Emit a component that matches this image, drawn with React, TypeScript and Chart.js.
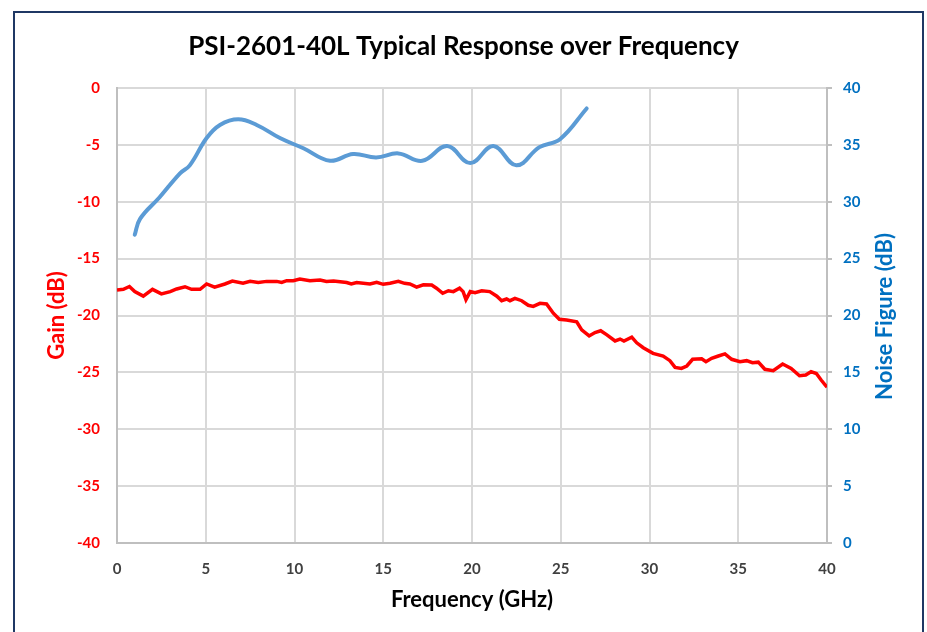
import React, { useEffect, useRef } from "react";
import { Chart, registerables } from "chart.js";

Chart.register(...registerables);

const chartTitle = "PSI-2601-40L Typical Response over Frequency";
const xTitle = "Frequency (GHz)";
const leftTitle = "Gain (dB)";
const rightTitle = "Noise Figure (dB)";

const gainFreq = [
  0.0, 0.36, 0.7, 1.0, 1.48, 2.0, 2.5, 3.0, 3.36, 3.83, 4.2, 4.68, 5.05, 5.5, 6.08, 6.5,
  7.1, 7.5, 7.96, 8.43, 9.0, 9.28, 9.56, 9.93, 10.3, 10.87, 11.44, 11.8, 12.2, 12.94, 13.2,
  13.5, 14.25, 14.63, 15.0, 15.38, 15.85, 16.2, 16.5, 16.88, 17.26, 17.73, 18.0, 18.35,
  18.67, 18.95, 19.3, 19.5, 19.66, 19.9, 20.17, 20.55, 21.0, 21.4, 21.67, 21.95, 22.14,
  22.42, 22.8, 23.17, 23.45, 23.83, 24.2, 24.58, 24.92, 25.33, 25.9, 26.18, 26.6, 26.93,
  27.25, 27.6, 28.06, 28.34, 28.56, 29.0, 29.28, 29.65, 30.2, 30.77, 31.15, 31.44, 31.8,
  32.1, 32.43, 32.94, 33.18, 33.5, 33.88, 34.25, 34.63, 35.1, 35.47, 35.8, 36.13, 36.5,
  36.97, 37.5, 37.98, 38.45, 38.8, 39.1, 39.4, 39.67, 40.0,
];
const gainValues = [
  -17.76, -17.7, -17.45, -17.9, -18.3, -17.7, -18.1, -17.9, -17.67, -17.47, -17.7, -17.7,
  -17.23, -17.5, -17.23, -16.97, -17.17, -17.0, -17.1, -17.0, -17.0, -17.1, -16.94, -16.94,
  -16.8, -16.94, -16.88, -17.0, -16.97, -17.1, -17.23, -17.1, -17.23, -17.08, -17.26,
  -17.17, -17.0, -17.17, -17.23, -17.5, -17.3, -17.32, -17.6, -18.05, -17.82, -17.9, -17.6,
  -17.9, -18.6, -17.9, -18.0, -17.82, -17.9, -18.3, -18.7, -18.55, -18.7, -18.5, -18.7,
  -19.1, -19.2, -18.93, -18.99, -19.8, -20.33, -20.4, -20.55, -21.27, -21.8, -21.5, -21.34,
  -21.7, -22.24, -22.07, -22.24, -21.9, -22.4, -22.83, -23.33, -23.56, -23.97, -24.56,
  -24.65, -24.44, -23.85, -23.8, -24.06, -23.76, -23.56, -23.38, -23.85, -24.06, -23.97,
  -24.15, -24.1, -24.73, -24.85, -24.26, -24.65, -25.3, -25.23, -24.94, -25.1, -25.67, -26.3,
];

const nfFreq = [
  1.0, 1.3, 2.4, 3.55, 4.1, 5.05, 5.8, 6.83, 7.87, 9.18, 10.5, 12.0, 13.3, 14.6, 15.85,
  17.2, 18.6, 19.9, 21.2, 22.5, 23.8, 24.96, 26.46,
];
const nfValues = [
  27.1, 28.5, 30.4, 32.5, 33.2, 35.6, 36.75, 37.25, 36.75, 35.6, 34.7, 33.6, 34.2, 33.9,
  34.25, 33.6, 34.9, 33.4, 34.9, 33.2, 34.8, 35.5, 38.2,
];

const xRange = [0, 40];
const gainRange = [-40, 0];
const nfRange = [0, 40];
const tickStep = 5;

const FONT = "Lato, 'Open Sans', 'DejaVu Sans', sans-serif";

export default function App() {
  const ref = useRef<HTMLCanvasElement>(null);

  useEffect(() => {
    if (!ref.current) return;
    const rightTitlePlugin = {
      id: "rightTitle",
      afterDraw(chart: any) {
        const ctx = chart.ctx;
        const s = chart.scales.y1;
        const ca = chart.chartArea;
        ctx.save();
        ctx.translate(s.left + 58, (ca.top + ca.bottom) / 2 + 1);
        ctx.rotate(-Math.PI / 2);
        ctx.font = `bold 22px ${FONT}`;
        ctx.fillStyle = "#0070C0";
        ctx.textAlign = "center";
        ctx.textBaseline = "middle";
        ctx.fillText(rightTitle, 0, 0);
        ctx.restore();
      },
    };

    const chart = new Chart(ref.current, {
      type: "line",
      data: {
        datasets: [
          {
            label: "Gain",
            data: gainFreq.map((f, i) => ({ x: f, y: gainValues[i] })),
            borderColor: "#FF0000",
            backgroundColor: "#FF0000",
            borderWidth: 3.5,
            pointRadius: 0,
            tension: 0,
            yAxisID: "y",
          },
          {
            label: "Noise Figure",
            data: nfFreq.map((f, i) => ({ x: f, y: nfValues[i] })),
            borderColor: "#5B9BD5",
            backgroundColor: "#5B9BD5",
            borderWidth: 4,
            pointRadius: 0,
            tension: 0.4,
            borderCapStyle: "round",
            yAxisID: "y1",
          },
        ],
      },
      options: {
        responsive: false,
        animation: false,
        devicePixelRatio: 1,
        layout: { padding: 0 },
        plugins: {
          legend: { display: false },
          tooltip: { enabled: false },
          title: {
            display: true,
            text: chartTitle,
            color: "#000000",
            font: { family: FONT, size: 26, weight: "bold", lineHeight: 1.2 },
            padding: { top: 31.4, bottom: 25.4 },
          },
        },
        scales: {
          x: {
            type: "linear",
            min: xRange[0],
            max: xRange[1],
            afterFit: (s: any) => {
              s.height = 89;
            },
            ticks: {
              stepSize: tickStep,
              color: "#404040",
              padding: 17,
              font: { family: FONT, size: 15, weight: "bold" },
            },
            grid: { color: "#D9D9D9", lineWidth: 2, drawTicks: false },
            border: { display: true, color: "#BFBFBF", width: 2 },
            title: {
              display: true,
              text: xTitle,
              color: "#000000",
              font: { family: FONT, size: 22, weight: "bold", lineHeight: 1.2 },
              padding: { top: 0, bottom: 18.8 },
            },
          },
          y: {
            type: "linear",
            position: "left",
            min: gainRange[0],
            max: gainRange[1],
            afterFit: (s: any) => {
              s.width = 117;
            },
            ticks: {
              stepSize: tickStep,
              color: "#FF0000",
              padding: 17,
              font: { family: FONT, size: 15, weight: "bold" },
            },
            grid: { color: "#D9D9D9", lineWidth: 2, drawTicks: false },
            border: { display: true, color: "#BFBFBF", width: 2 },
            title: {
              display: true,
              text: leftTitle,
              color: "#FF0000",
              font: { family: FONT, size: 22, weight: "bold", lineHeight: 1.2 },
              padding: { top: 43.8, bottom: 0 },
            },
          },
          y1: {
            type: "linear",
            position: "right",
            min: nfRange[0],
            max: nfRange[1],
            afterFit: (s: any) => {
              s.width = 100;
            },
            ticks: {
              stepSize: tickStep,
              color: "#0070C0",
              padding: 11,
              font: { family: FONT, size: 15, weight: "bold" },
            },
            grid: {
              drawOnChartArea: false,
              drawTicks: true,
              tickLength: 5,
              tickColor: "#BFBFBF",
              lineWidth: 2,
            },
            border: { display: true, color: "#BFBFBF", width: 2 },
          },
        },
      },
      plugins: [rightTitlePlugin],
    } as any);
    return () => chart.destroy();
  }, []);

  return (
    <div style={{ position: "absolute", left: 0, top: 0, width: 927, height: 632, background: "#ffffff", overflow: "hidden" }}>
      <canvas ref={ref} width={927} height={632} style={{ position: "absolute", left: 0, top: 0 }} />
      <div
        style={{
          position: "absolute",
          left: 13,
          top: 11,
          width: 911,
          height: 621,
          boxSizing: "border-box",
          borderTop: "2px solid #1F3864",
          borderLeft: "2px solid #1F3864",
          borderRight: "2px solid #1F3864",
          pointerEvents: "none",
        }}
      />
    </div>
  );
}
